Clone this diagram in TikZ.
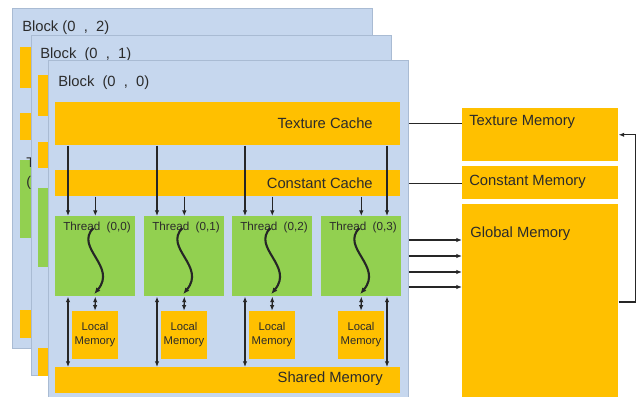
\documentclass[tikz,border=0pt]{standalone}
\usepackage{fontspec}
\setmainfont{Liberation Sans}
\usepackage{xcolor}
\usepackage{tikz}
\usetikzlibrary{arrows.meta,calc}
\definecolor{blockblue}{HTML}{C6D7EE}
\definecolor{blockedge}{HTML}{A9BBD3}
\definecolor{memorange}{HTML}{FFC000}
\definecolor{threadgreen}{HTML}{92D050}
\definecolor{inktext}{HTML}{2B2B2B}

\begin{document}
\begin{tikzpicture}[x=0.025cm, y=-0.025cm,
  block/.style={draw=blockedge, line width=0.6pt, fill=blockblue, anchor=north west, inner sep=0pt, minimum width=9cm, minimum height=8.5cm},
  bar/.style={fill=memorange, anchor=north west, inner sep=0pt, minimum width=8.625cm},
  thread/.style={fill=threadgreen, anchor=north west, inner sep=0pt, minimum width=2cm},
  local/.style={fill=memorange, inner sep=0pt, minimum width=1.15cm, minimum height=1.2cm, align=center, text=inktext, font=\fontsize{8}{10}\selectfont},
  mem/.style={fill=memorange, anchor=north west, inner sep=0pt, minimum width=3.9cm},
  bigtxt/.style={font=\fontsize{10.5}{12}\selectfont, text=inktext, inner sep=0pt},
  thtxt/.style={font=\fontsize{8.3}{10}\selectfont, text=inktext, inner sep=0pt, anchor=west},
  link/.style={line width=0.9pt, draw=black!85},
  flow/.style={link, -{Latex[length=4pt,width=3.2pt]}},
  both/.style={link, {Latex[length=4pt,width=3.2pt]}-{Latex[length=4pt,width=3.2pt]}},
  wave/.style={line width=1.5pt, draw=black!85, -{Latex[length=4.5pt,width=3.8pt]}}]
\clip (0,0) rectangle (643,396);

% block (0,2), mostly hidden
\node[block] (blk2) at (12,8) {};
\node[bigtxt, anchor=west] (blk2txt) at (22,28) {Block\ (0\ \ ,\ \ 2)};
\node[bar, minimum height=1.025cm] (tcache2) at (20,47) {};
\node[bar, minimum height=0.675cm] (ccache2) at (20,113) {};
\node[thread, minimum height=1.95cm] (th2) at (20,160) {};
\node[bigtxt, anchor=north west, align=left, font=\fontsize{10}{13.5}\selectfont] (th2txt) at (26,157) {Thread\\(0,0)};
\node[bar, minimum height=0.7cm] (shared2) at (20,310) {};

% block (0,1), mostly hidden
\node[block] (blk1) at (31,35) {};
\node[bigtxt, anchor=west] (blk1txt) at (40,55) {Block\ \ (0\ \ ,\ \ 1)};
\node[bar, minimum height=1.025cm] (tcache1) at (38,75) {};
\node[bar, minimum height=0.65cm] (ccache1) at (38,142) {};
\node[thread, minimum height=1.975cm] (th1) at (38,188) {};
\node[bar, minimum height=0.7cm] (shared1) at (38,348) {};

% block (0,0)
\node[block] (blk0) at (48,60) {};
\node[bigtxt, anchor=west] (blk0txt) at (58,83) {Block\ \ (0\ \ ,\ \ 0)};
\node[bar, minimum height=1.075cm] (tcache) at (55,102) {};
\node[bigtxt, anchor=east] (tcachetxt) at (373,123) {Texture Cache};
\node[bar, minimum height=0.65cm] (ccache) at (55,170) {};
\node[bigtxt, anchor=east] (ccachetxt) at (373,183) {Constant Cache};
\node[bar, minimum height=0.65cm] (shared) at (55,367) {};
\node[bigtxt, anchor=east] (sharedtxt) at (383,379) {Shared Memory};

% threads
\foreach \i/\x/\t in {0/55/68, 1/144/157, 2/232/245, 3/321/387} {
  \node[thread, minimum height=2cm] (th\i) at (\x,216) {};
  \node[thtxt] (th\i txt) at (\x+8,227) {Thread\ \ (0,\i)};
  \node[local] (loc\i) at (\x+40,335) {Local\\Memory};
  \coordinate (tx\i) at (\t,216);
  \draw[flow] (tcache.south -| tx\i) -- (tx\i);
  \draw[flow] (ccache.south -| th\i.north) -- (th\i.north);
  \draw[both] (th\i.south) -- (loc\i.north);
  \draw[both] (tx\i |- th\i.south) -- (tx\i |- shared.north);
  \draw[wave] ($(th\i.north)+(-2,12)$) .. controls ($(th\i.north)+(-21,32)$) and ($(th\i.north)+(22,50)$) .. ($(th\i.north)+(-1,78)$);
}

% device memories
\node[mem, minimum height=1.325cm] (tmem) at (462,108) {};
\node[bigtxt, anchor=west] (tmemtxt) at (469,122) {Texture Memory};
\node[mem, minimum height=0.825cm] (cmem) at (462,166) {};
\node[bigtxt, anchor=west] (cmemtxt) at (469,182) {Constant Memory};
\node[mem, minimum height=4.9cm] (gmem) at (462,204) {};
\node[bigtxt, anchor=west] (gmemtxt) at (470,234) {Global Memory};

\draw[link] (blk0.east |- tcache.east) -- (tmem.west |- tcache.east);
\draw[link] (blk0.east |- ccache.east) -- (cmem.west |- ccache.east);
\foreach \yy in {240,256,272,287}
  \draw[flow] (blk0.east |- 0,\yy) -- (gmem.west |- 0,\yy);
\draw[flow] (gmem.east |- 0,302) -- ++(17,0) |- (tmem.east);
\end{tikzpicture}
\end{document}
